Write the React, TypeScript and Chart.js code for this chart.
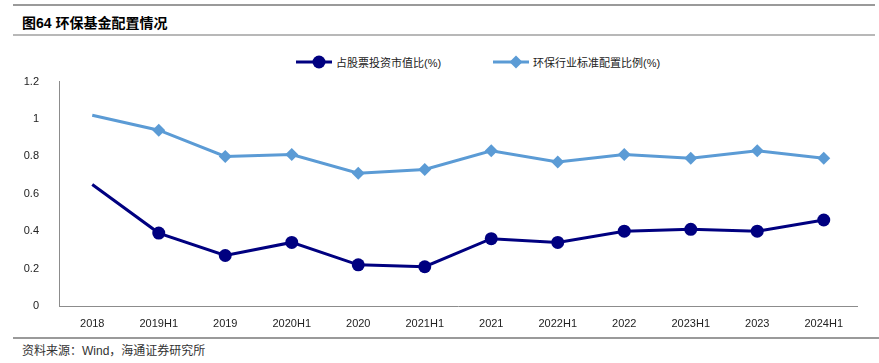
import React, { useEffect, useRef } from "react";
import { Chart, registerables } from "chart.js";

Chart.register(...registerables);

const categories = ["2018", "2019H1", "2019", "2020H1", "2020", "2021H1", "2021", "2022H1", "2022", "2023H1", "2023", "2024H1"];
const stockRatio = [0.65, 0.39, 0.27, 0.34, 0.22, 0.21, 0.36, 0.34, 0.40, 0.41, 0.40, 0.46];
const standardRatio = [1.02, 0.94, 0.80, 0.81, 0.71, 0.73, 0.83, 0.77, 0.81, 0.79, 0.83, 0.79];
const seriesNames = ["占股票投资市值比(%)", "环保行业标准配置比例(%)"];
const title = "图64 环保基金配置情况";
const source = "资料来源：Wind，海通证券研究所";

const NAVY = "#000080";
const LIGHT = "#5B9BD5";
const LATIN = "'Liberation Sans', Arial, sans-serif";
const CJK = "'Liberation Sans', 'Noto Sans CJK SC', sans-serif";

export default function App() {
  const ref = useRef<HTMLCanvasElement | null>(null);

  useEffect(() => {
    document.body.style.margin = "0";
    const canvas = ref.current;
    if (!canvas) return;
    const chart = new Chart(canvas, {
      type: "line",
      data: {
        labels: categories,
        datasets: [
          {
            label: seriesNames[0],
            data: stockRatio,
            borderColor: NAVY,
            backgroundColor: NAVY,
            borderWidth: 3,
            pointStyle: "circle",
            pointRadius: (c: any) => (c.dataIndex === 0 ? 0 : 6.5),
            pointBorderWidth: 0,
            tension: 0,
          },
          {
            label: seriesNames[1],
            data: standardRatio,
            borderColor: LIGHT,
            backgroundColor: LIGHT,
            borderWidth: 3,
            pointStyle: "rectRot",
            pointRadius: (c: any) => (c.dataIndex === 0 ? 0 : 6.5),
            pointBorderWidth: 0,
            tension: 0,
          },
        ],
      },
      options: {
        animation: false,
        responsive: false,
        maintainAspectRatio: false,
        layout: { padding: { left: 0, right: 22, top: 11, bottom: 0 } },
        plugins: {
          legend: { display: false },
          tooltip: { enabled: false },
        },
        scales: {
          x: {
            offset: true,
            grid: { display: false },
            border: { display: true, color: "#8c8c8c", width: 1 },
            ticks: { color: "#222", font: { family: LATIN, size: 11 }, padding: 3, maxRotation: 0, autoSkip: false },
            afterFit: (s: any) => { s.height = 34; },
          },
          y: {
            min: 0,
            max: 1.2,
            grid: { display: false },
            border: { display: true, color: "#8c8c8c", width: 1 },
            ticks: { stepSize: 0.2, color: "#222", font: { family: LATIN, size: 11 }, padding: 12,
              callback: (v: any) => String(Math.round(Number(v) * 10) / 10) },
            afterFit: (s: any) => { s.width = 59; },
          },
        },
      },
    });
    return () => chart.destroy();
  }, []);

  return (
    <div style={{ position: "absolute", left: 0, top: 0, width: 879, height: 363, background: "#fff", overflow: "hidden" }}>
      <div style={{ position: "absolute", left: 13, right: 4, top: 4, height: 2, background: "#9a9a9a" }} />
      <div style={{ position: "absolute", left: 22, top: 14, fontFamily: CJK, fontWeight: 700, fontSize: 14, color: "#000", lineHeight: "18px" }}>
        {title}
      </div>
      <div style={{ position: "absolute", left: 13, right: 4, top: 34, height: 2, background: "#b8b8b8" }} />

      <div style={{ position: "absolute", left: 296, top: 53, height: 18, display: "flex", alignItems: "center", fontFamily: CJK, fontSize: 11, color: "#222" }}>
        <svg width="36" height="16" style={{ marginRight: 4 }}>
          <line x1="0" y1="8" x2="36" y2="8" stroke={NAVY} strokeWidth="3" />
          <circle cx="23" cy="8" r="6.5" fill={NAVY} />
        </svg>
        <span>{seriesNames[0]}</span>
      </div>
      <div style={{ position: "absolute", left: 493, top: 53, height: 18, display: "flex", alignItems: "center", fontFamily: CJK, fontSize: 11, color: "#222" }}>
        <svg width="36" height="16" style={{ marginRight: 4 }}>
          <line x1="0" y1="8" x2="36" y2="8" stroke={LIGHT} strokeWidth="3" />
          <polygon points="23,1.5 29.5,8 23,14.5 16.5,8" fill={LIGHT} />
        </svg>
        <span>{seriesNames[1]}</span>
      </div>

      <canvas ref={ref} width={879} height={277} style={{ position: "absolute", left: 0, top: 63, width: 879, height: 277 }} />

      <div style={{ position: "absolute", left: 13, right: 0, top: 337, height: 2, background: "#9a9a9a" }} />
      <div style={{ position: "absolute", left: 22, top: 343, fontFamily: CJK, fontSize: 12, color: "#333", lineHeight: "16px" }}>
        {source}
      </div>
    </div>
  );
}
